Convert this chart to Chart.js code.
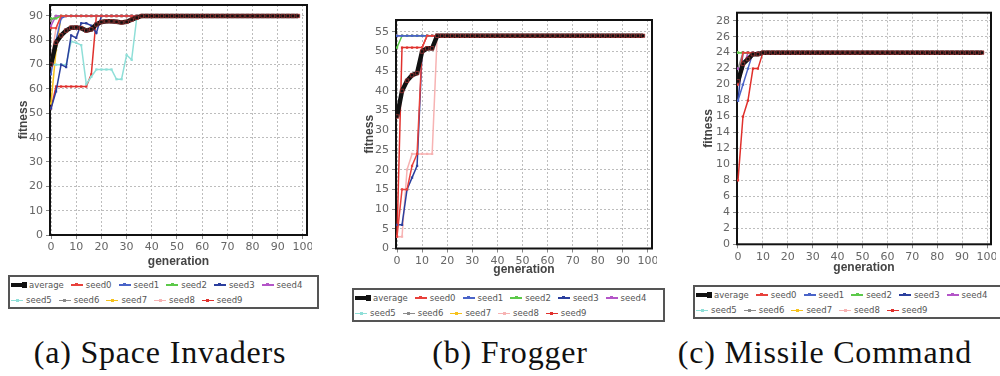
<!DOCTYPE html>
<html>
<head>
<meta charset="utf-8">
<script src="https://cdn.jsdelivr.net/npm/chart.js@4.4.0/dist/chart.umd.min.js"></script>
<style>
  body { margin: 0; width: 1000px; height: 376px; background: #fff; position: relative; overflow: hidden; font-family: "DejaVu Sans", sans-serif; }
  canvas.plot { position: absolute; top: 0; }
  .legend { position: absolute; border: 2px solid #555; box-sizing: border-box; padding: 0 0 0 1px; font-size: 8.5px; color: #555; background: #fff; }
  .row { display: flex; align-items: center; height: 15.5px; white-space: nowrap; }
  .item { display: flex; align-items: center; margin-right: 7px; }
  .sw { position: relative; width: 12px; height: 9px; margin-right: 3px; }
  .sw::before { content: ""; position: absolute; left: 0; right: 0; top: 4px; height: 1.5px; background: var(--c); }
  .sw::after { content: ""; position: absolute; left: 4.5px; top: 3px; width: 3px; height: 3px; background: var(--c); }
  .sw.avg { width: 15px; }
  .sw.avg::before { top: 2.5px; height: 4px; }
  .sw.avg::after { left: 11px; top: 1.5px; width: 5px; height: 6px; }
  .caption { position: absolute; top: 336px; font-family: "Liberation Serif", "Times New Roman", serif; font-size: 32px; line-height: 32px; letter-spacing: 0.8px; color: #111; white-space: nowrap; transform: translateX(-50%); }
</style>
</head>
<body>
<canvas id="inv" class="plot"></canvas>
<canvas id="frog" class="plot"></canvas>
<canvas id="miss" class="plot"></canvas>

<div class="legend" id="legInv" style="left:8px;top:275px;width:311px;height:34px"></div>
<div class="legend" id="legFrog" style="left:352px;top:288px;width:313px;height:34px"></div>
<div class="legend" id="legMiss" style="left:693px;top:285px;width:320px;height:34px"></div>

<div class="caption" style="left:160px">(a) Space Invaders</div>
<div class="caption" style="left:510px">(b) Frogger</div>
<div class="caption" style="left:825px">(c) Missile Command</div>

<script>
// generations where the runs were sampled (every 2nd generation)
const gens = [0, 2, 4, 6, 8, 10, 12, 14, 16, 18, 20, 22, 24, 26, 28, 30, 32, 34, 36, 38,
  40, 42, 44, 46, 48, 50, 52, 54, 56, 58, 60, 62, 64, 66, 68, 70, 72, 74, 76, 78,
  80, 82, 84, 86, 88, 90, 92, 94, 96, 98];
const xTicks = [0, 10, 20, 30, 40, 50, 60, 70, 80, 90, 100];
const invTicks = [0, 10, 20, 30, 40, 50, 60, 70, 80, 90];
const frogTicks = [0, 5, 10, 15, 20, 25, 30, 35, 40, 45, 50, 55];
const missTicks = [0, 2, 4, 6, 8, 10, 12, 14, 16, 18, 20, 22, 24, 26, 28];
const seedNames = ["seed0", "seed1", "seed2", "seed3", "seed4", "seed5", "seed6", "seed7", "seed8", "seed9"];

// values read off the picture until each run settles; the last value is then held
// Space Invaders
const invAverage = [70, 79, 82, 84, 85.2, 85.3, 85, 84, 84.5, 86.5, 87.5, 87.8, 87.8, 87.6, 87.3, 87.6, 88.5, 89.3, 90];
const invSeed0 = [85, 85, 90];
const invSeed1 = [66, 80, 89, 90];
const invSeed2 = [89, 89, 90];
const invSeed3 = [52, 59, 70, 69, 82, 81, 87, 87, 86, 83, 90];
const invSeed4 = [86, 90];
const invSeed5 = [70, 70, 70, 70, 79.5, 79, 78, 62, 65, 68, 68, 68, 68, 64, 64, 74, 72, 89, 90];
const invSeed6 = [88, 90];
const invSeed7 = [54, 76, 90];
const invSeed8 = [72, 85, 90];
const invSeed9 = [52, 61, 61, 61, 61, 61, 61, 61, 66, 90];

// Frogger
const frogAverage = [33.5, 40, 42.6, 44, 44.5, 50, 50.8, 50.8, 54];
const frogSeed0 = [3, 15, 15, 21, 24, 51, 54];
const frogSeed1 = [54];
const frogSeed2 = [51, 54];
const frogSeed3 = [6, 6, 15, 18, 21, 50, 51, 51, 54];
const frogSeed4 = [54];
const frogSeed5 = [54];
const frogSeed6 = [54];
const frogSeed7 = [54];
const frogSeed8 = [3, 3, 20, 24, 24, 24, 24, 24, 54];
const frogSeed9 = [3, 51, 51, 51, 51, 51, 54];

// Missile Command
const missAverage = [20.4, 22.6, 23.2, 23.8, 23.8, 24];
const missSeed0 = [20, 24];
const missSeed1 = [18, 20, 22, 24];
const missSeed2 = [24];
const missSeed3 = [18, 24];
const missSeed4 = [22, 22, 24];
const missSeed5 = [24];
const missSeed6 = [22, 24];
const missSeed7 = [24];
const missSeed8 = [24];
const missSeed9 = [8, 16, 18, 22, 22, 24];

const seedColors = ["#e8413c", "#4a64c8", "#5cc94a", "#2b3f9e", "#b455c8",
  "#8fdfd8", "#8c8c8c", "#f6c21c", "#f7b3b3", "#e0302c"];

// hold the last read value up to the end of the run
function toPoints(vals) {
  return gens.map((g, i) => ({ x: g, y: i < vals.length ? vals[i] : vals[vals.length - 1] }));
}

const frame = {
  id: "frame",
  beforeDatasetsDraw(chart) {
    const { ctx, chartArea: a } = chart;
    ctx.save();
    ctx.strokeStyle = "#111";
    ctx.lineWidth = 2;
    ctx.strokeRect(a.left, a.top, a.right - a.left, a.bottom - a.top);
    ctx.restore();
  }
};

function makeChart(id, geo, yMax, yTicks, avg, seeds) {
  const cv = document.getElementById(id);
  const W = geo.right + 5 - geo.cx;
  const H = geo.titleY + 9;
  cv.width = W;
  cv.height = H;
  cv.style.left = geo.cx + "px";

  const datasets = [{
    label: "average",
    data: toPoints(avg),
    borderColor: "#111",
    borderWidth: 4.5,
    pointStyle: "rect",
    pointRadius: 2.5,
    pointBackgroundColor: "#111",
    pointBorderColor: "rgba(180,60,60,0.7)",
    pointBorderWidth: 1
  }];
  seeds.forEach((s, i) => {
    datasets.push({
      label: seedNames[i],
      data: toPoints(s),
      borderColor: seedColors[i],
      borderWidth: 1.5,
      pointStyle: "rect",
      pointRadius: 1.6,
      pointBackgroundColor: seedColors[i],
      pointBorderColor: seedColors[i],
      pointBorderWidth: 0
    });
  });

  const tickFont = { family: "DejaVu Sans", size: 11 };
  const titleFont = { family: "Liberation Sans", size: 12, weight: "bold" };

  new Chart(cv, {
    type: "line",
    data: { datasets: datasets },
    options: {
      responsive: false,
      animation: false,
      layout: { padding: { top: geo.top, right: 5, left: 0, bottom: 0 } },
      plugins: { legend: { display: false }, tooltip: { enabled: false } },
      elements: { line: { tension: 0 } },
      scales: {
        x: {
          type: "linear",
          min: -0.4,
          max: 101.6,
          afterFit: (s) => { s.height = H - geo.bottom; s.paddingLeft = 0; s.paddingRight = 0; },
          afterBuildTicks: (s) => { s.ticks = xTicks.map(v => ({ value: v })); },
          ticks: { color: "#666", font: tickFont, padding: 2, maxRotation: 0, autoSkip: false },
          grid: { color: "#bdbdbd", tickColor: "#888", tickLength: 4, lineWidth: 1 },
          border: { display: false, dash: [2, 2] },
          title: { display: true, text: "generation", color: "#444", font: titleFont, padding: { top: 0, bottom: 2 } }
        },
        y: {
          min: 0,
          max: yMax,
          afterFit: (s) => { s.width = geo.left - geo.cx; s.paddingTop = 0; s.paddingBottom = 0; },
          afterBuildTicks: (s) => { s.ticks = yTicks.map(v => ({ value: v })); },
          ticks: { color: "#666", font: tickFont, padding: 3, autoSkip: false },
          grid: { color: "#bdbdbd", tickColor: "#888", tickLength: 4, lineWidth: 1 },
          border: { display: false, dash: [2, 2] },
          title: { display: true, text: "fitness", color: "#444", font: titleFont, padding: { top: 2, bottom: 0 } }
        }
      }
    },
    plugins: [frame]
  });
}

function makeLegend(id) {
  const box = document.getElementById(id);
  const rows = [["average", "seed0", "seed1", "seed2", "seed3", "seed4"],
    ["seed5", "seed6", "seed7", "seed8", "seed9"]];
  rows.forEach(r => {
    const row = document.createElement("div");
    row.className = "row";
    r.forEach(name => {
      const item = document.createElement("div");
      item.className = "item";
      const sw = document.createElement("span");
      const idx = seedNames.indexOf(name);
      sw.className = idx < 0 ? "sw avg" : "sw";
      sw.style.setProperty("--c", idx < 0 ? "#111" : seedColors[idx]);
      const txt = document.createElement("span");
      txt.textContent = name;
      item.appendChild(sw);
      item.appendChild(txt);
      row.appendChild(item);
    });
    box.appendChild(row);
  });
}

makeChart("inv", { cx: 14, left: 50, top: 3, right: 307, bottom: 235, titleY: 262 }, 94.5, invTicks, invAverage,
  [invSeed0, invSeed1, invSeed2, invSeed3, invSeed4, invSeed5, invSeed6, invSeed7, invSeed8, invSeed9]);
makeChart("frog", { cx: 360, left: 396, top: 20, right: 652, bottom: 248.5, titleY: 270 }, 58, frogTicks, frogAverage,
  [frogSeed0, frogSeed1, frogSeed2, frogSeed3, frogSeed4, frogSeed5, frogSeed6, frogSeed7, frogSeed8, frogSeed9]);
makeChart("miss", { cx: 699, left: 737, top: 12.7, right: 991, bottom: 244.3, titleY: 268 }, 29, missTicks, missAverage,
  [missSeed0, missSeed1, missSeed2, missSeed3, missSeed4, missSeed5, missSeed6, missSeed7, missSeed8, missSeed9]);

makeLegend("legInv");
makeLegend("legFrog");
makeLegend("legMiss");
</script>
</body>
</html>
